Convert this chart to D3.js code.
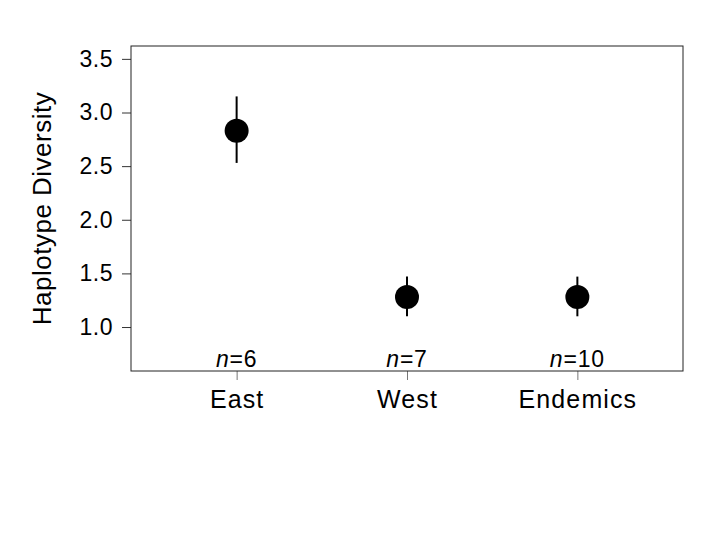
<!DOCTYPE html>
<html>
<head>
<meta charset="utf-8">
<script src="https://cdn.jsdelivr.net/npm/d3@7"></script>
<style>
  body { margin: 0; background: #fff; }
  svg { display: block; font-family: 'Liberation Sans', Arial, sans-serif; }
</style>
</head>
<body>
<svg id="chart" width="720" height="540"></svg>
<script>
const groups = ['East', 'West', 'Endemics'];
const means = [2.83, 1.28, 1.28];
const lower = [2.53, 1.1, 1.1];
const upper = [3.15, 1.47, 1.47];
const sampleSizes = [6, 7, 10];
const yTicks = [1.0, 1.5, 2.0, 2.5, 3.0, 3.5];

const svg = d3.select('#chart');
const plot = { left: 131, right: 683, top: 46, bottom: 371 };
const fontFamily = 'Liberation Sans, Arial, sans-serif';

const x = d3
  .scalePoint()
  .domain(groups)
  .range([plot.left, plot.right])
  .padding(0.62);

const y = d3
  .scaleLinear()
  .domain([0.59, 3.62])
  .range([plot.bottom, plot.top]);

const points = groups.map((g, i) => ({
  group: g,
  mean: means[i],
  lo: lower[i],
  hi: upper[i],
  n: sampleSizes[i],
}));

// y axis (ticks only, box drawn separately)
const yAxis = svg
  .append('g')
  .attr('transform', `translate(${plot.left},0)`)
  .call(
    d3
      .axisLeft(y)
      .tickValues(yTicks)
      .tickFormat(d3.format('.1f'))
      .tickSize(9)
      .tickPadding(9),
  );
yAxis.attr('font-size', 23).attr('font-family', fontFamily);
yAxis.select('.domain').remove();
yAxis.selectAll('line').attr('stroke', '#333');
yAxis.selectAll('text').attr('fill', '#000').attr('letter-spacing', 0.5);

const xAxis = svg
  .append('g')
  .attr('transform', `translate(0,${plot.bottom})`)
  .call(d3.axisBottom(x).tickSize(9).tickPadding(10));
xAxis.attr('font-size', 25).attr('font-family', fontFamily);
xAxis.select('.domain').remove();
xAxis.selectAll('line').attr('stroke', '#777');
xAxis.selectAll('text').attr('fill', '#000').attr('letter-spacing', 1.1);

// plot box
svg
  .append('rect')
  .attr('x', plot.left)
  .attr('y', plot.top)
  .attr('width', plot.right - plot.left)
  .attr('height', plot.bottom - plot.top)
  .attr('fill', 'none')
  .attr('stroke', '#222')
  .attr('stroke-width', 1);

// error bars
svg
  .append('g')
  .selectAll('line')
  .data(points)
  .enter()
  .append('line')
  .attr('x1', (d) => x(d.group))
  .attr('x2', (d) => x(d.group))
  .attr('y1', (d) => y(d.lo))
  .attr('y2', (d) => y(d.hi))
  .attr('stroke', '#000')
  .attr('stroke-width', 2);

// means
svg
  .append('g')
  .selectAll('circle')
  .data(points)
  .enter()
  .append('circle')
  .attr('cx', (d) => x(d.group))
  .attr('cy', (d) => y(d.mean))
  .attr('r', 12)
  .attr('fill', '#000');

// sample sizes
const nLabels = svg
  .append('g')
  .selectAll('text')
  .data(points)
  .enter()
  .append('text')
  .attr('x', (d) => x(d.group))
  .attr('y', 367)
  .attr('text-anchor', 'middle')
  .attr('font-size', 23)
  .attr('letter-spacing', 0.8);
nLabels.append('tspan').attr('font-style', 'italic').text('n');
nLabels.append('tspan').text((d) => `=${d.n}`);

// y axis title
svg
  .append('text')
  .attr('transform', `translate(51,${(plot.top + plot.bottom) / 2}) rotate(-90)`)
  .attr('text-anchor', 'middle')
  .attr('font-size', 26)
  .attr('letter-spacing', 0.5)
  .text('Haplotype Diversity');
</script>
</body>
</html>
